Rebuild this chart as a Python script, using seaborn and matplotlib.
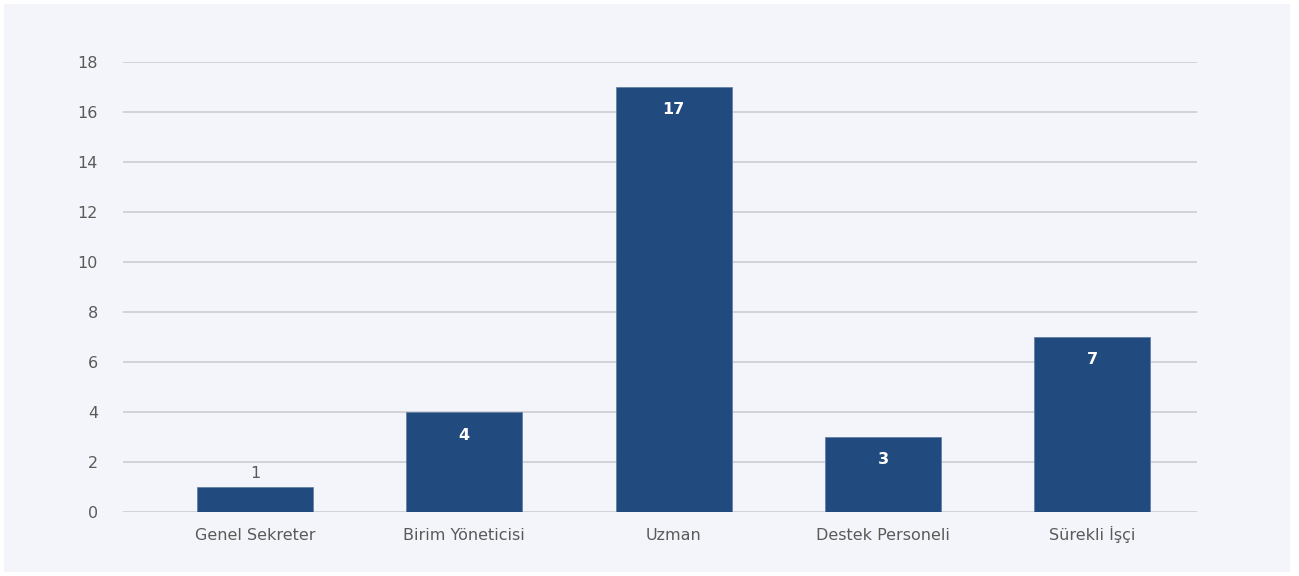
import matplotlib
matplotlib.use("Agg")
import matplotlib.pyplot as plt
import seaborn as sns
import pandas as pd

categories = ["Genel Sekreter", "Birim Yöneticisi", "Uzman", "Destek Personeli", "Sürekli İşçi"]
values = [1, 4, 17, 3, 7]
yticks = [0, 2, 4, 6, 8, 10, 12, 14, 16, 18]

df = pd.DataFrame({"cat": categories, "val": values})

sns.set_theme(style="white")
plt.rcParams['font.family'] = ['DejaVu Sans']

bg = "#F4F5FA"
fig = plt.figure(figsize=(12.99, 5.76), dpi=100, facecolor="white")
fig.patches.append(matplotlib.patches.Rectangle((4/1299, 4/576), (1290-4)/1299, (572-4)/576,
                                                transform=fig.transFigure, facecolor=bg, edgecolor="none", zorder=-10))
ax = fig.add_axes([123/1299, 1 - 512/576, (1197-123)/1299, (512-62)/576])
ax.set_facecolor(bg)

sns.barplot(data=df, x="cat", y="val", ax=ax, color="#214A7E", width=0.555,
            saturation=1, edgecolor="#5b7ba3", linewidth=0.5, zorder=3)

ax.set_ylim(0, 18)
ax.set_xlim(-0.63, 4.5)
ax.set_yticks(yticks)
ax.yaxis.grid(True, color="#C8C9CE", linewidth=1.1, zorder=0)
ax.set_axisbelow(True)
for s in ax.spines.values():
    s.set_visible(False)
ax.tick_params(axis="both", length=0, labelsize=11.5, labelcolor="#5A5A5A")
ax.tick_params(axis="y", pad=18)
ax.tick_params(axis="x", pad=20)
for lab in ax.get_xticklabels():
    lab.set_verticalalignment("baseline")
ax.set_xlabel("")
ax.set_ylabel("")

for i, v in enumerate(values):
    if v < 2:
        ax.text(i, v + 0.25, str(v), ha="center", va="bottom", fontsize=11.5, color="#5A5A5A")
    else:
        ax.text(i, v - 0.62, str(v), ha="center", va="top", fontsize=11.5, color="white", fontweight="bold")

fig.savefig("out.png", dpi=100, facecolor="white")
